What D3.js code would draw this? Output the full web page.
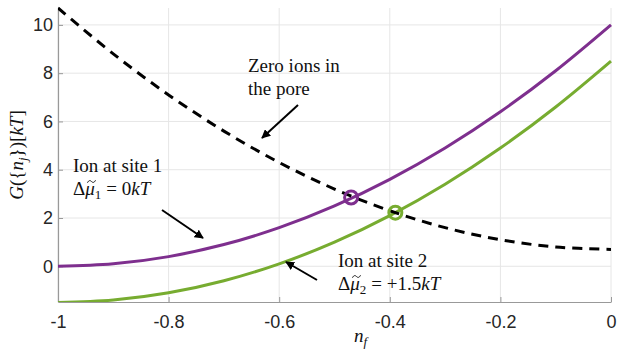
<!DOCTYPE html>
<html><head><meta charset="utf-8">
<script src="https://cdn.jsdelivr.net/npm/d3@7"></script>
<style>
body{margin:0;background:#fff;}
svg{display:block;}
</style>
</head><body>
<svg id="chart" width="623" height="357"></svg>
<script>
const nf = [-1, -0.9, -0.8, -0.7, -0.6, -0.5, -0.4, -0.3, -0.2, -0.1, 0];
const zeroIons = [10.7, 8.8, 7.1, 5.6, 4.3, 3.2, 2.3, 1.6, 1.1, 0.8, 0.7];
const site1 = [0, 0.1, 0.4, 0.9, 1.6, 2.5, 3.6, 4.9, 6.4, 8.1, 10];
const site2 = [-1.5, -1.4, -1.1, -0.6, 0.1, 1.0, 2.1, 3.4, 4.9, 6.6, 8.5];
const crossX = [-0.47, -0.39];
const crossY = [2.85, 2.22];
const xTicks = [-1, -0.8, -0.6, -0.4, -0.2, 0];
const xTickLabels = ["-1", "-0.8", "-0.6", "-0.4", "-0.2", "0"];
const yTicks = [0, 2, 4, 6, 8, 10];

const SERIF = "Liberation Serif";
const SANS = "Liberation Sans";
const FS = 19;
const purple = "#7E2F8E", green = "#77AC30";
const svg = d3.select("#chart");
const L = 58, R = 611, T = 8, B = 302;
const x = d3.scaleLinear().domain([-1, 0]).range([L, R]);
const y = d3.scaleLinear().domain([-1.48, 10.7]).range([B, T]);

// grid
const g = svg.append("g");
g.selectAll(".gx").data(xTicks).enter().append("line")
  .attr("x1", d => x(d)).attr("x2", d => x(d)).attr("y1", T).attr("y2", B)
  .attr("stroke", "#e6e6e6").attr("stroke-width", 1);
g.selectAll(".gy").data(yTicks).enter().append("line")
  .attr("x1", L).attr("x2", R).attr("y1", d => y(d)).attr("y2", d => y(d))
  .attr("stroke", "#e6e6e6").attr("stroke-width", 1);

// axes
const xAxis = d3.axisBottom(x).tickValues(xTicks).tickFormat((d, i) => xTickLabels[i]).tickSizeInner(-5).tickSizeOuter(0).tickPadding(13);
const yAxis = d3.axisLeft(y).tickValues(yTicks).tickFormat(d3.format("d")).tickSizeInner(-5).tickSizeOuter(0).tickPadding(5);
const ax = svg.append("g").attr("transform", `translate(0,${B})`).call(xAxis);
const ay = svg.append("g").attr("transform", `translate(${L},0)`).call(yAxis);
[ax, ay].forEach(a => {
  a.select(".domain").attr("stroke", "#999").attr("stroke-width", 1.2);
  a.selectAll(".tick line").attr("stroke", "#999");
  a.selectAll(".tick text").style("font-family", SANS).style("font-size", "18px").attr("fill", "#262626");
});

const pts = arr => nf.map((v, i) => [v, arr[i]]);
const line = d3.line().x(d => x(d[0])).y(d => y(d[1])).curve(d3.curveCatmullRom);
const defs = svg.append("defs");
defs.append("clipPath").attr("id", "clip").append("rect")
  .attr("x", L).attr("y", T - 2).attr("width", R - L + 2).attr("height", B - T + 2);
const pl = svg.append("g").attr("clip-path", "url(#clip)");
pl.append("path").attr("d", line(pts(site2))).attr("fill", "none").attr("stroke", green).attr("stroke-width", 3);
pl.append("path").attr("d", line(pts(site1))).attr("fill", "none").attr("stroke", purple).attr("stroke-width", 3);
pl.append("path").attr("d", line(pts(zeroIons))).attr("fill", "none").attr("stroke", "#000").attr("stroke-width", 3).attr("stroke-dasharray", "10,7");

svg.selectAll(".mk").data(crossX).enter().append("circle")
  .attr("cx", d => x(d)).attr("cy", (d, i) => y(crossY[i])).attr("r", 6.5)
  .attr("fill", "none").attr("stroke", (d, i) => i === 0 ? purple : green).attr("stroke-width", 3);

// arrows
defs.append("marker").attr("id", "ah").attr("viewBox", "0 0 10 10").attr("refX", 9).attr("refY", 5)
  .attr("markerWidth", 4.5).attr("markerHeight", 4.5).attr("orient", "auto")
  .append("path").attr("d", "M0,0 L10,5 L0,10 z").attr("fill", "#000");
const arrows = [[162, 210, 203, 238], [298, 105, 262, 138], [317, 280, 286, 262]];
arrows.forEach(a => svg.append("line").attr("x1", a[0]).attr("y1", a[1]).attr("x2", a[2]).attr("y2", a[3])
  .attr("stroke", "#000").attr("stroke-width", 2).attr("marker-end", "url(#ah)"));

// annotations: pieces laid out by measured width
function piece(parent, xp, yp, s, size, italic) {
  const e = parent.append("text").attr("x", xp).attr("y", yp)
    .style("font-family", SERIF).style("font-size", size + "px").attr("fill", "#111")
    .style("white-space", "pre")
    .style("font-style", italic ? "italic" : "normal").text(s);
  return e.node().getComputedTextLength();
}
function txt(xp, yp, s) { piece(svg, xp, yp, s, FS, false); }
function deltaMu(xp, yp, sub, rest) {
  let cx = xp;
  cx += piece(svg, cx, yp, "Δ", FS, false);
  const w = piece(svg, cx, yp, "μ", FS, true);
  const mx = cx + w / 2 + 1.5, my = yp - 13.5;
  svg.append("path")
    .attr("d", `M${mx - 4},${my + 1.2} C${mx - 2.5},${my - 1.8} ${mx - 1},${my - 1} ${mx},${my} S${mx + 2.5},${my + 1.8} ${mx + 4},${my - 1.2}`)
    .attr("fill", "none").attr("stroke", "#111").attr("stroke-width", 1);
  cx += w;
  cx += piece(svg, cx, yp + 4, sub, 13, false);
  cx += 5;
  cx += piece(svg, cx, yp, "= " + rest, FS, false);
  piece(svg, cx, yp, "kT", FS, true);
}
txt(248, 72, "Zero ions in");
txt(248, 95, "the pore");
txt(73, 172, "Ion at site 1");
deltaMu(73, 195, "1", "0");
txt(338, 267, "Ion at site 2");
deltaMu(338, 290, "2", "+1.5");

// axis labels
{
  const w = piece(svg, 354, 342, "n", FS, true);
  piece(svg, 354 + w, 346, "f", 13, true);
}
{
  const yl = svg.append("g");
  let cx = 0;
  cx += piece(yl, cx, 0, "G", FS, true);
  cx += piece(yl, cx, 0, "({", FS, false);
  cx += piece(yl, cx, 0, "n", FS, true);
  cx += piece(yl, cx, 4, "j", 13, true);
  cx += piece(yl, cx, 0, "})[", FS, false);
  cx += piece(yl, cx, 0, "kT", FS, true);
  cx += piece(yl, cx, 0, "]", FS, false);
  yl.attr("transform", `translate(23,${(T + B) / 2 + cx / 2}) rotate(-90)`);
}
</script>
</body></html>
